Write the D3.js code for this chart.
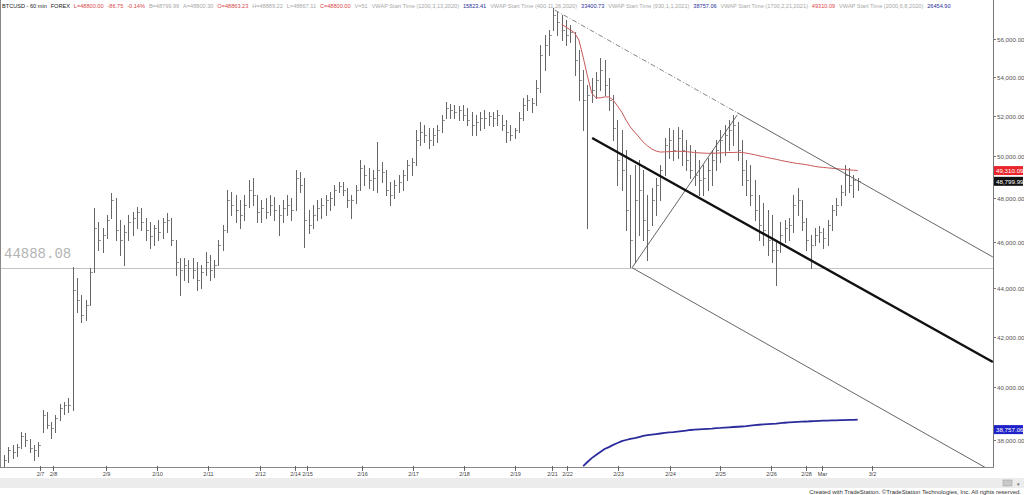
<!DOCTYPE html>
<html><head><meta charset="utf-8">
<script src="https://cdn.jsdelivr.net/npm/d3@7"></script>
<style>body{margin:0;background:#fff;} svg{display:block;font-family:"Liberation Sans",Arial,sans-serif;}</style>
</head><body>
<svg id="c" width="1024" height="495"></svg>
<script>
// ---------------- DATA ----------------
// 2-hour bars, BTCUSD (index 0 = first bar on chart)
const barHigh = [
37450,37740,37820,37850,38290,38260,38040,37820,37930,39120,
39040,38670,38930,39350,39420,39570,44920,44450,43720,43510,
44880,47560,46920,46650,47240,48250,48020,47010,46780,47240,
47370,47600,47560,47100,46920,46780,47010,47100,47330,47100,
46110,45310,45310,45230,45310,45140,45010,45580,45440,45230,
46110,46780,48390,48300,48160,47930,48160,48860,48960,48160,
47930,48020,48160,48070,47700,47930,48160,48020,49340,49240,
48960,47470,47700,47930,48020,48160,48300,48630,48770,48770,
48490,48160,48630,49820,49580,49430,49340,50690,49720,49340,
48770,48860,49100,49340,49820,49910,51280,51680,51530,51380,
51380,51530,52030,52690,52590,52540,52490,52540,52390,52180,
52030,52180,52290,52180,52180,52290,52030,51780,51530,51380,
52180,52900,53050,52900,53820,55680,56220,56490,57700,57480,
57310,57040,56760,56380,55410,54350,53560,53930,54240,54980,
54880,53930,53050,51780,51280,50300,49100,49580,49820,49340,
48160,48490,48960,49580,50890,51380,51280,51430,51280,50790,
50550,50300,49820,49580,49910,50300,50790,51280,51530,51780,
52030,51680,50790,49820,49580,48860,48160,47790,47470,47240,
46110,46920,47010,47100,48160,48490,47930,47100,46330,46650,
46740,46650,47010,47700,48020,48630,49580,49430,49100,48960];
const barLow = [
37020,37200,37340,37420,37710,37780,37560,37270,37420,38290,
38440,38070,38290,38740,38970,39040,39120,43010,42590,42680,
43300,44700,45660,45580,46200,47100,46110,45440,45010,46110,
46330,46650,46560,46110,45750,45890,46110,46200,46470,45890,
44570,43720,44360,44270,44450,43930,44020,44570,44360,44490,
45010,45660,46470,47240,46920,46650,47010,47600,47700,46920,
46920,47100,47240,47010,46330,46920,47240,47010,47470,48300,
45800,46420,46650,47010,47100,47240,47470,47700,48300,48160,
47600,47100,47790,48390,48630,48490,48390,48300,48770,48160,
47700,48020,48300,48390,48860,49100,49580,50550,50690,50400,
50550,50690,51180,51880,51880,51880,51780,51780,51530,51040,
51040,51280,51380,51530,51480,51530,51280,50690,50790,50890,
51180,51780,52290,52180,52540,53200,54350,55140,56490,56220,
55950,55680,55840,54090,52790,51280,46650,52690,52900,53310,
53050,52290,50790,48630,48390,46560,44920,45140,46330,46110,
45230,46780,47240,47930,49100,49910,49820,49910,49580,49340,
48960,48630,48160,48160,48390,48630,49340,49720,50060,50300,
50550,49820,48630,48160,47700,47010,46110,45890,45440,45140,
44150,45580,46020,46110,46470,47240,46560,45660,44880,45890,
46020,45750,45890,46560,47240,47700,48160,48300,48070,48390];
const barClose = [
37270,37630,37560,37740,38150,38000,37710,37630,37820,38930,
38550,38440,38820,39190,39310,39310,43930,43510,42880,43300,
44700,46650,46110,46330,47010,47930,46560,46110,46470,46920,
47100,47370,46920,46560,46290,46650,46470,46920,47010,46110,
45140,44790,45010,44880,44790,44360,44700,45140,44790,45010,
45890,46560,47930,47700,47470,47240,47700,48390,48160,47370,
47560,47370,47700,47470,47240,47560,47700,47470,48960,48630,
47010,46780,47240,47560,47700,47930,48020,48390,48580,48390,
47930,47930,48390,49430,49100,48860,48960,49340,49240,48390,
48160,48630,48770,49100,49580,49720,50790,51180,51040,50790,
51040,51280,51780,52390,52290,52180,52290,52030,51780,51530,
51680,51880,51880,51980,51880,52030,51530,51180,51040,51280,
51880,52540,52790,52640,53410,55140,55680,56220,57310,56930,
56490,56220,56380,54880,53820,52790,53050,53310,53820,54350,
53560,52790,51380,49820,49340,47470,46110,47930,48390,47010,
46560,47930,48630,49340,50550,50790,50300,50890,50300,49820,
49340,49100,48860,48960,49340,49820,50300,50790,51040,51280,
51530,50300,49340,48860,48160,47470,46780,46560,46110,45660,
45660,46330,46650,46780,47700,47930,46920,46110,45890,46330,
46470,46200,46780,47470,47700,48300,49100,48630,48860,48800];

// VWAP (1700,2,21,2021) – red, starting at bar 130
const vwapRedStart = 130;
const vwapRed = [
56800,56650,56500,56330,55950,55030,54030,53150,52900,52900,
52950,52950,52790,52490,52180,51780,51430,51180,50940,50690,
50500,50350,50250,50200,50210,50220,50230,50240,50230,50220,
50200,50180,50160,50150,50140,50140,50150,50160,50170,50180,
50180,50190,50180,50150,50110,50070,50020,49980,49930,49890,
49850,49800,49760,49720,49680,49650,49620,49590,49550,49510,
49480,49460,49440,49420,49400,49380,49360,49340,49330,49310];
// VWAP (930,1,1,2021) – blue, starting at bar 135
const vwapBlueStart = 135;
const vwapBlue = [
37050,37200,37340,37450,37560,37670,37740,37820,37890,37960,
38000,38040,38070,38110,38150,38180,38200,38220,38240,38260,
38280,38290,38310,38330,38350,38370,38380,38390,38400,38410,
38420,38440,38445,38460,38470,38480,38490,38500,38510,38530,
38550,38565,38580,38590,38600,38610,38625,38640,38650,38660,
38670,38680,38685,38695,38700,38710,38715,38720,38725,38730,
38735,38740,38745,38750,38757];

// Horizontal level
const levelValue = 44888.08;

// Trend lines: [barIndex, price]
const upperDashed = [[128.4, 57590], [170.9, 52150]];
const upperSolid  = [[170.9, 52150], [230.5, 45356]];
const midThick    = [[137.1, 50886], [230.5, 40975]];
const risingLine  = [[146.4, 44888], [170.9, 52030]];
const lowerLine   = [[146.4, 44888], [230.5, 36850]];

// Axis
const priceTicks = [38000,40000,42000,44000,46000,48000,50000,52000,54000,56000];
const dateLabels = ["2/7","2/8","2/9","2/10","2/11","2/12","2/14","2/15","2/16","2/17","2/18","2/19","2/21","2/22","2/23","2/24","2/25","2/26","2/28","Mar","3/2"];
const datePos    = [8.4,11.4,23.8,35.7,47.6,59.7,67.8,70.6,83.4,95.3,107.2,119.1,127.7,131.2,143.1,155.2,166.9,178.8,186.9,190.7,202.3];

// Price flags on the axis
const flagValues = ["49,310.09","48,799.99","38,757.06"];
const flagPrices = [49310.09, 48799.99, 38757.06];

// Header text
const headerParts = ["BTCUSD - 60 min","FOREX","L=48800.00","-86.75","-0.14%","B=48799.99","A=48800.30","O=48863.23","H=48889.22","L=48867.11","C=48800.00","V=51","VWAP Start Time (1200,3,13,2020)","15823.41","VWAP Start Time (400,11,26,2020)","33400.73","VWAP Start Time (930,1,1,2021)","38757.06","VWAP Start Time (1700,2,21,2021)","49310.09","VWAP Start Time (2000,6,8,2020)","26454.90"];
const headerKinds = ["k","k","r","r","r","g","g","r","g","g","r","g","g","b","g","b","g","b","g","r","g","b"];

// ---------------- DRAW ----------------
const svg = d3.select("#c");
const W = 1024, H = 495, plotRight = 993, plotBottom = 467;
const x = d3.scaleLinear().domain([0, barHigh.length - 1]).range([4, 857.7]);
const y = d3.scaleLog().domain([38000, 56000]).range([440, 39]);
const kindColor = {k:"#222", r:"#d8474a", g:"#a8a8a8", b:"#2a2f9a"};

svg.append("rect").attr("width", W).attr("height", H).attr("fill", "#fff");

svg.append("defs").append("clipPath").attr("id","plot")
  .append("rect").attr("x",0).attr("y",0).attr("width",plotRight).attr("height",plotBottom);

const plot = svg.append("g").attr("clip-path","url(#plot)");

// level line
plot.append("line").attr("x1",0).attr("x2",plotRight)
  .attr("y1", Math.round(y(levelValue))+0.5).attr("y2", Math.round(y(levelValue))+0.5)
  .attr("stroke","#c4c4c4").attr("stroke-width",1);
svg.append("text").attr("x",4).attr("y", y(levelValue)-10)
  .attr("font-family","'Liberation Mono','DejaVu Sans Mono',monospace").attr("font-size",14)
  .attr("fill","#b4b4b4").text(levelValue.toFixed(2));

// bars
const px = i => Math.round(x(i)) + 0.5;
const bars = plot.append("g").attr("stroke","#666").attr("stroke-width",1).attr("shape-rendering","crispEdges");
barHigh.forEach((h,i) => {
  bars.append("line").attr("x1",px(i)).attr("x2",px(i)).attr("y1",Math.round(y(h))).attr("y2",Math.round(y(barLow[i]))+1);
  const cy = Math.round(y(barClose[i])) + 0.5;
  bars.append("line").attr("x1",px(i)).attr("x2",px(i)+2).attr("y1",cy).attr("y2",cy).attr("stroke","#999");
});

// VWAP lines
const lineGen = d3.line().x(d => x(d[0])).y(d => y(d[1]));
plot.append("path").datum(vwapRed.map((v,k)=>[vwapRedStart+k, v]))
  .attr("d", lineGen).attr("fill","none").attr("stroke","#c9585a").attr("stroke-width",1);
plot.append("path").datum(vwapBlue.map((v,k)=>[vwapBlueStart+k, v]))
  .attr("d", lineGen).attr("fill","none").attr("stroke","#2b2b9c").attr("stroke-width",1.8);

// trend lines
function tl(pts, color, w, dash){
  const p = plot.append("path").datum(pts).attr("d", lineGen).attr("fill","none")
    .attr("stroke", color).attr("stroke-width", w);
  if (dash) p.attr("stroke-dasharray", dash);
}
tl(upperDashed, "#777", 0.9, "5,2,1,2");
tl(upperSolid, "#555", 0.9);
tl(risingLine, "#555", 0.9);
tl(lowerLine, "#555", 0.9);
tl(midThick, "#111", 2.4);

// frame lines
svg.append("line").attr("x1",0.5).attr("x2",0.5).attr("y1",0).attr("y2",plotBottom).attr("stroke","#888");
svg.append("line").attr("x1",plotRight+0.5).attr("x2",plotRight+0.5).attr("y1",0).attr("y2",plotBottom).attr("stroke","#777");
svg.append("line").attr("x1",0).attr("x2",plotRight+1).attr("y1",plotBottom+0.5).attr("y2",plotBottom+0.5).attr("stroke","#888");

// right axis
const fmt = d3.format(",.2f");
const ya = svg.append("g");
priceTicks.forEach(v => {
  const yy = Math.round(y(v)) + 0.5;
  ya.append("line").attr("x1",plotRight).attr("x2",plotRight+3).attr("y1",yy).attr("y2",yy).attr("stroke","#777");
  ya.append("text").attr("x",plotRight+4).attr("y",yy+2).attr("font-size",6.2).attr("fill","#555").text(fmt(v));
});

// price flags
const flagFill = ["#e8262c","#111","#1f22c8"];
const flagOffset = [0, 0, 10];
flagValues.forEach((t,k) => {
  const yy = y(flagPrices[k]) + flagOffset[k];
  ya.append("rect").attr("x",plotRight+1).attr("y",yy-4.5).attr("width",29).attr("height",9).attr("fill",flagFill[k]);
  ya.append("text").attr("x",plotRight+3).attr("y",yy+2.2).attr("font-size",6.2).attr("fill","#fff").text(t);
});

// bottom axis
const xa = svg.append("g");
dateLabels.forEach((t,k) => {
  const xx = Math.round(x(datePos[k])) + 0.5;
  xa.append("line").attr("x1",xx).attr("x2",xx).attr("y1",plotBottom-1).attr("y2",plotBottom+4).attr("stroke","#666");
  xa.append("text").attr("x",xx).attr("y",plotBottom+8.5).attr("text-anchor","middle")
    .attr("font-size",5.5).attr("fill","#444").text(t);
});

// bottom band and credits
svg.append("rect").attr("x",0).attr("y",478).attr("width",W).attr("height",10).attr("fill","#ececec");
svg.append("rect").attr("x",1003).attr("y",480).attr("width",9).attr("height",6).attr("fill","#c8c8c8").attr("stroke","#999").attr("stroke-width",0.5);
svg.append("text").attr("x",1017).attr("y",485.5).attr("font-size",5).attr("fill","#666").text("▾");
svg.append("text").attr("x",1021).attr("y",493.5).attr("text-anchor","end").attr("font-size",6).attr("fill","#333")
  .text("Created with TradeStation. ©TradeStation Technologies, Inc. All rights reserved.");

// header
let hx = 2;
headerParts.forEach((t,k) => {
  const el = svg.append("text").attr("x",hx).attr("y",7.5).attr("font-size",5.6).attr("fill",kindColor[headerKinds[k]]).text(t);
  hx += el.node().getComputedTextLength() + 3.9;
});
</script>
</body></html>
